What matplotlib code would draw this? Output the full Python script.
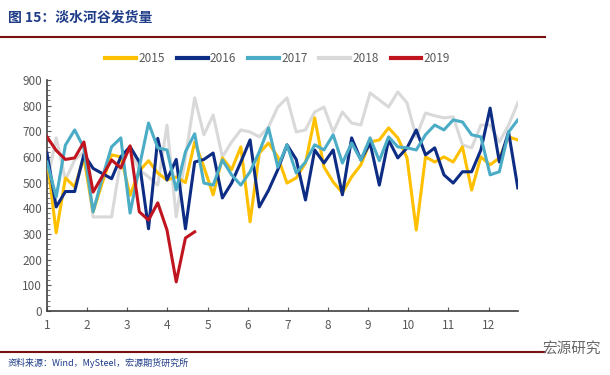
import numpy as np
import matplotlib
matplotlib.use("Agg")
import matplotlib.pyplot as plt
from matplotlib.ticker import MultipleLocator

plt.rcParams['font.family'] = ['Noto Sans CJK SC', 'DejaVu Sans']

# weekly shipments (10k t)
v2015 = [600, 304, 518, 483, 596, 386, 500, 608, 600, 450, 545, 585, 537, 510, 522, 500,
         658, 560, 452, 596, 550, 639, 347, 615, 654, 600, 498, 518, 576, 752, 561, 502,
         460, 522, 569, 658, 666, 713, 674, 596, 315, 600, 580, 600, 580, 639, 471, 600,
         569, 596, 678, 666]
v2016 = [615, 405, 465, 465, 610, 555, 535, 515, 600, 640, 580, 320, 672, 510, 590, 320,
         580, 590, 615, 440, 498, 580, 666, 405, 470, 550, 647, 590, 432, 627, 576, 627,
         452, 674, 588, 654, 490, 666, 596, 635, 705, 608, 635, 530, 498, 542, 542, 627,
         790, 580, 697, 479]
v2017 = [580, 444, 646, 705, 635, 386, 520, 639, 674, 381, 560, 732, 635, 627, 471, 620,
         690, 498, 490, 588, 530, 490, 542, 620, 713, 560, 647, 537, 580, 647, 627, 686,
         576, 654, 588, 674, 585, 678, 639, 635, 627, 686, 724, 705, 744, 736, 686, 678,
         530, 542, 697, 744]
v2018 = [500, 674, 510, 588, 620, 366, 366, 366, 588, 627, 550, 522, 490, 724, 366, 600,
         830, 686, 763, 600, 658, 705, 697, 678, 717, 794, 830, 697, 705, 775, 794, 697,
         775, 732, 724, 849, 822, 794, 853, 810, 678, 771, 760, 752, 756, 647, 635, 724,
         724, 658, 724, 810]
v2019 = [678, 625, 590, 596, 658, 463, 525, 588, 557, 643, 386, 354, 421, 315, 113, 284, 308]

years = ['2015', '2016', '2017', '2018', '2019']
series = [v2015, v2016, v2017, v2018, v2019]
colors = ['#FFC000', '#0D2C84', '#4BACC6', '#D9D9D9', '#C0151F']
zorders = [3, 4, 5, 2, 6]

fig = plt.figure(figsize=(6.1, 3.75), dpi=100)
ax = fig.add_axes([0.077, 0.171, 0.772, 0.616])

for yr, vals, c, z in zip(years, series, colors, zorders):
    wk = np.arange(len(vals))
    x = 1 + wk * 7 / 30.44   # week index -> month position
    ax.plot(x, vals, color=c, lw=2.2, label=yr, zorder=z)

ax.set_xlim(1, 12.73)
ax.set_ylim(0, 900)
ax.set_xticks(range(1, 13))
ax.yaxis.set_major_locator(MultipleLocator(100))
ax.yaxis.set_minor_locator(MultipleLocator(20))
ax.tick_params(axis='both', which='both', direction='in', colors='#595959',
               labelsize=8.5, length=3)
ax.tick_params(axis='y', which='minor', length=2)
ax.tick_params(axis='x', pad=6)
for s in ['top', 'right']:
    ax.spines[s].set_visible(False)
for s in ['left', 'bottom']:
    ax.spines[s].set_color('#404040')
    ax.spines[s].set_linewidth(1.2)

leg = ax.legend(loc='upper center', bbox_to_anchor=(0.49, 1.165), ncol=5, frameon=False,
                fontsize=8.5, handlelength=2.6, columnspacing=1.0, handletextpad=0.2)
for t in leg.get_texts():
    t.set_color('#595959')
for h in leg.get_lines():
    h.set_linewidth(3)

# header / footer
fig.text(0.013, 0.952, '图 15：淡水河谷发货量', color='#1F3C88', fontsize=10,
         fontweight='bold', va='center', ha='left')
fig.add_artist(plt.Line2D([0.0, 0.893], [0.902, 0.902], color='#7B1013', lw=1.5))
fig.add_artist(plt.Line2D([0.0, 0.893], [0.061, 0.061], color='#7B1013', lw=1.5))
fig.text(0.013, 0.045, '资料来源：Wind，MySteel，宏源期货研究所', color='#1F3C88',
         fontsize=6.5, style='italic', va='top', ha='left')
fig.text(0.985, 0.07, '宏源研究', color='#666666', fontsize=10.5, va='center', ha='right')

plt.savefig('out.png', dpi=100)
plt.close('all')
